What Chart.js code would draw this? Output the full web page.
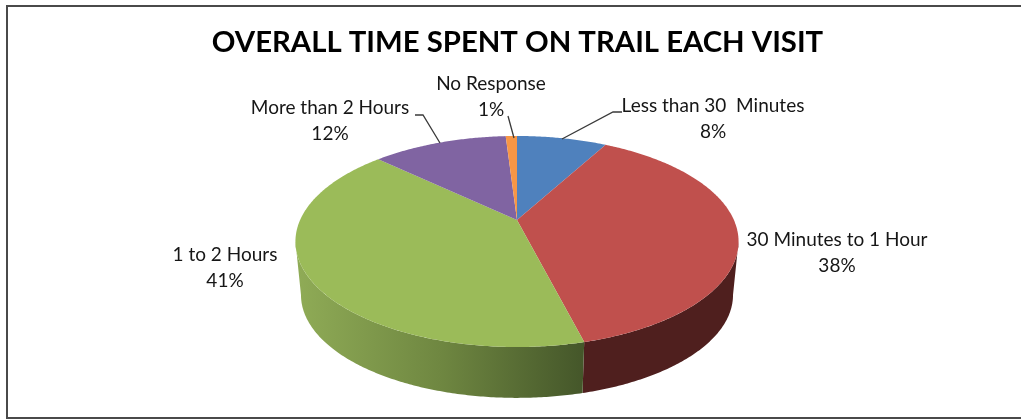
<!DOCTYPE html>
<html>
<head>
<meta charset="utf-8">
<title>Overall time spent on trail each visit</title>
<script src="https://cdn.jsdelivr.net/npm/chart.js"></script>
<style>
  html, body { margin: 0; padding: 0; background: #fff; }
  #wrap { position: relative; width: 1021px; height: 419px; }
</style>
</head>
<body>
<div id="wrap"><canvas id="trailChart" width="1021" height="419"></canvas></div>
<script>
// ========== DATA ========== //
const categories = ['Less than 30  Minutes', '30 Minutes to 1 Hour', '1 to 2 Hours', 'More than 2 Hours', 'No Response'];
const percentValues = [8, 38, 41, 12, 1];
const chartTitle = 'OVERALL TIME SPENT ON TRAIL EACH VISIT';

// ========== STYLE ========== //
const sliceColors = ['#4f81bd', '#c0504d', '#9bbb59', '#8064a2', '#f79646'];
const FONT = 'Lato, "Open Sans", sans-serif';
const TEXT_COLOR = '#161616';

// label centre x, first line y, leader line points (in category order)
const labelLayout = [
  { x: 713, y: 106, leader: [[562, 139], [613, 112], [622, 112]] },
  { x: 837, y: 240, leader: null },
  { x: 225, y: 255, leader: null },
  { x: 330, y: 108, leader: [[440, 143], [423, 115], [415, 115]] },
  { x: 491, y: 84, leader: [[514, 138], [508, 116]] }
];

// ========== PERSPECTIVE ========== //
// Pie is tilted, so the circle centre does not land on the ellipse centre
const CX = 517;
const PK = 216.9, PA = 56.3, PB = 220, PC = -0.2038;
const ELLIPSE_CY = 241.5;
const BASE_CY = 295, BASE_SCALE = 0.975;

function project(angle, isBase) {
  const u = Math.cos(angle);
  const v = Math.sin(angle);
  const w = 1 + PC * v;
  const dx = PK * u / w;
  const y = (PA * v + PB) / w;
  if (!isBase) return [CX + dx, y];
  return [CX + dx * BASE_SCALE, BASE_CY + (y - ELLIPSE_CY) * BASE_SCALE];
}

function traceEdge(ctx, from, to, isBase, moveFirst) {
  const steps = Math.max(2, Math.ceil(Math.abs(to - from) / 0.01));
  for (let i = 0; i <= steps; i++) {
    const p = project(from + (to - from) * i / steps, isBase);
    if (i === 0 && moveFirst) ctx.moveTo(p[0], p[1]);
    else ctx.lineTo(p[0], p[1]);
  }
}

function wallFill(ctx, index) {
  if (index === 2) {
    const g = ctx.createLinearGradient(298, 0, 582, 0);
    g.addColorStop(0, '#8fab56');
    g.addColorStop(0.5, '#6f8741');
    g.addColorStop(1, '#45572a');
    return g;
  }
  return '#4f1f1e';
}

const tiltedPie = {
  id: 'tiltedPie',
  beforeDraw(chart) {
    const ctx = chart.ctx;
    // frame: open on the right side
    ctx.save();
    ctx.strokeStyle = '#4a4a4a';
    ctx.lineWidth = 2;
    ctx.beginPath();
    ctx.moveTo(1021, 6);
    ctx.lineTo(7, 6);
    ctx.lineTo(7, 418);
    ctx.lineTo(1021, 418);
    ctx.stroke();
    ctx.restore();
  },
  beforeDatasetDraw(chart, args) {
    const ctx = chart.ctx;
    const arcs = args.meta.data;
    const frontStart = Math.asin(-PC);
    const frontEnd = Math.PI - frontStart;

    // side wall first
    arcs.forEach((arc, i) => {
      const a0 = Math.max(arc.startAngle, frontStart);
      const a1 = Math.min(arc.endAngle, frontEnd);
      if (a1 <= a0) return;
      ctx.beginPath();
      traceEdge(ctx, a0, a1, false, true);
      traceEdge(ctx, a1, a0, true, false);
      ctx.closePath();
      ctx.fillStyle = wallFill(ctx, i);
      ctx.fill();
    });

    // top face
    arcs.forEach((arc, i) => {
      ctx.beginPath();
      ctx.moveTo(CX, PB);
      traceEdge(ctx, arc.startAngle, arc.endAngle, false, false);
      ctx.closePath();
      ctx.fillStyle = sliceColors[i];
      ctx.fill();
    });
    return false;
  },
  afterDatasetsDraw(chart) {
    const ctx = chart.ctx;
    ctx.save();
    ctx.strokeStyle = '#3a3a3a';
    ctx.lineWidth = 1.3;
    labelLayout.forEach(l => {
      if (!l.leader) return;
      ctx.beginPath();
      l.leader.forEach((p, n) => n ? ctx.lineTo(p[0], p[1]) : ctx.moveTo(p[0], p[1]));
      ctx.stroke();
    });
    ctx.fillStyle = TEXT_COLOR;
    ctx.font = '19px ' + FONT;
    ctx.textAlign = 'center';
    ctx.textBaseline = 'middle';
    categories.forEach((name, i) => {
      const l = labelLayout[i];
      ctx.fillText(name, l.x, l.y);
      ctx.fillText(percentValues[i] + '%', l.x, l.y + 26);
    });
    ctx.restore();
  }
};

// ========== CHART ========== //
new Chart(document.getElementById('trailChart'), {
  type: 'pie',
  data: {
    labels: categories,
    datasets: [{ data: percentValues, backgroundColor: sliceColors, borderWidth: 0 }]
  },
  options: {
    responsive: false,
    animation: false,
    layout: { padding: { left: 14 } },
    plugins: {
      legend: { display: false },
      tooltip: { enabled: false },
      title: {
        display: true,
        text: chartTitle,
        color: '#000',
        font: { family: FONT, size: 29.3, weight: 'bold' },
        padding: { top: 25, bottom: 10 }
      }
    }
  },
  plugins: [tiltedPie]
});
</script>
</body>
</html>
